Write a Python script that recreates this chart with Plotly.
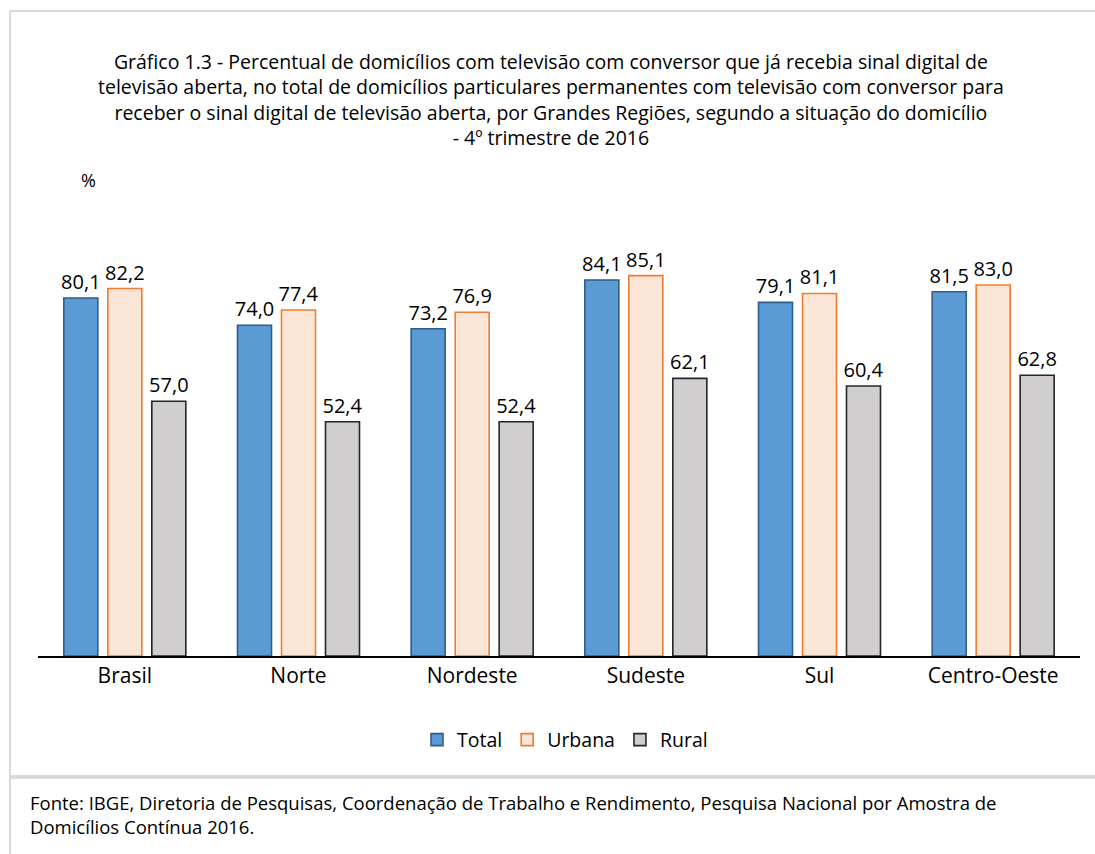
import plotly.graph_objects as go

# Data
regioes = ["Brasil", "Norte", "Nordeste", "Sudeste", "Sul", "Centro-Oeste"]
total = [80.1, 74.0, 73.2, 84.1, 79.1, 81.5]
urbana = [82.2, 77.4, 76.9, 85.1, 81.1, 83.0]
rural = [57.0, 52.4, 52.4, 62.1, 60.4, 62.8]

titulo = [
    "Gráfico 1.3 - Percentual de domicílios com televisão com conversor que já recebia sinal digital de",
    "televisão aberta, no total de domicílios particulares permanentes com televisão com conversor para",
    "receber o sinal digital de televisão aberta, por Grandes Regiões, segundo a situação do domicílio",
    "- 4º trimestre de 2016",
]
fonte = [
    "Fonte: IBGE, Diretoria de Pesquisas, Coordenação de Trabalho e Rendimento, Pesquisa Nacional por Amostra de",
    "Domicílios Contínua 2016.",
]

FONT = "Open Sans"
W, H = 1095, 854
L, R, T, B = 38, 15, 209, 198
PW, PH = W - L - R, H - T - B


def px(x):
    return (x - L) / PW


def py(y):
    return (H - B - y) / PH


def fmt(v):
    return f"{v:.1f}".replace(".", ",")


series = [
    ("Total", total, "#5B9BD5", "#2F5D8A"),
    ("Urbana", urbana, "#FBE5D6", "#ED7D31"),
    ("Rural", rural, "#D0CECE", "#262626"),
]

fig = go.Figure()
for nome, vals, fill, line in series:
    fig.add_trace(go.Bar(
        name=nome, x=regioes, y=vals,
        marker=dict(color=fill, line=dict(color=line, width=1.6)),
        text=[fmt(v) for v in vals], textposition="outside", constraintext="none",
        textfont=dict(family=FONT, size=20, color="#000000"),
        cliponaxis=False,
    ))

ann = [
    dict(text="<br>".join(titulo), x=px(551), y=py(99), xref="paper", yref="paper",
         showarrow=False, xanchor="center", yanchor="middle", align="center",
         font=dict(family=FONT, size=19.5, color="#000000")),
    dict(text="%", x=px(79), y=py(180), xref="paper", yref="paper", showarrow=False,
         xanchor="left", yanchor="middle", font=dict(family=FONT, size=18, color="#000000")),
    dict(text="<br>".join(fonte), x=px(28), y=py(814), xref="paper", yref="paper",
         showarrow=False, xanchor="left", yanchor="middle", align="left",
         font=dict(family=FONT, size=18.5, color="#000000")),
]

shapes = [
    # outer chart frame
    dict(type="line", xref="paper", yref="paper", x0=px(10), x1=px(1100), y0=py(11), y1=py(11),
         line=dict(color="#D9D9D9", width=2)),
    dict(type="line", xref="paper", yref="paper", x0=px(10), x1=px(10), y0=py(11), y1=py(860),
         line=dict(color="#D9D9D9", width=2)),
    # separator above source note
    dict(type="line", xref="paper", yref="paper", x0=px(10), x1=px(1100), y0=py(777), y1=py(777),
         line=dict(color="#D9D9D9", width=4)),
]

fig.update_layout(
    width=W, height=H,
    margin=dict(l=L, r=R, t=T, b=B, autoexpand=False),
    paper_bgcolor="white", plot_bgcolor="white",
    barmode="group", bargap=0.24, bargroupgap=0.227,
    font=dict(family=FONT, size=20, color="#000000"),
    xaxis=dict(showline=True, linecolor="#000000", linewidth=1.5, ticks="", ticklen=12,
               tickfont=dict(family=FONT, size=21, color="#000000"), fixedrange=True),
    yaxis=dict(range=[0, 100], visible=False, showgrid=False, fixedrange=True),
    legend=dict(orientation="h", x=px(565), xanchor="center", y=py(740), yanchor="middle",
                font=dict(family=FONT, size=19.5, color="#000000"), itemwidth=30,
                traceorder="normal"),
    annotations=ann, shapes=shapes,
    showlegend=True,
)

fig.write_html("out.html")
